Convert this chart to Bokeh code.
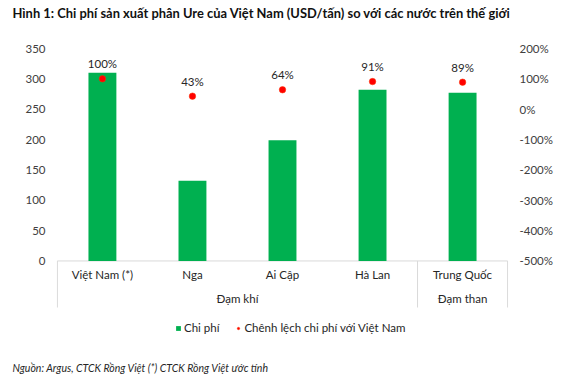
from bokeh.plotting import figure
from bokeh.models import (Range1d, LinearAxis, FixedTicker, Legend, LegendItem,
                          ColumnDataSource, Title)
from bokeh.core.properties import value
from bokeh.embed import file_html
from bokeh.resources import INLINE

# ---- data ----
categories = ["Việt Nam (*)", "Nga", "Ai Cập", "Hà Lan", "Trung Quốc"]
groups = ["Đạm khí", "Đạm khí", "Đạm khí", "Đạm khí", "Đạm than"]
cost = [310, 132, 199, 282, 277]          # USD/tấn
diff_pct = [100, 43, 64, 91, 89]          # % so với Việt Nam
left_ticks = [0, 50, 100, 150, 200, 250, 300, 350]
right_ticks = [-500, -400, -300, -200, -100, 0, 100, 200]

title_txt = "Hình 1: Chi phí sản xuất phân Ure của Việt Nam (USD/tấn) so với các nước trên thế giới"
source_txt = "Nguồn: Argus, CTCK Rồng Việt (*) CTCK Rồng Việt ước tính"
legend_cost = "Chi phí"
legend_diff = "Chênh lệch chi phí với Việt Nam"

FONT = "Lato"
TXT = "#404040"
DARK = "#262626"
GREEN = "#00B050"
RED = "#FF0000"
LINE = "#D9D9D9"

W, H = 578, 388
BL, BR, BT, BB = 56, 70, 48, 38
fh = H - BT - BB
Y1 = 350
Y0 = Y1 - fh / 0.607
X0, X1 = -0.01, 5.01
R0, R1 = -500 + 2 * Y0, 200


def yd(py):  # canvas px -> data y
    return Y1 - (py - BT) / fh * (Y1 - Y0)


p = figure(width=W, height=H, output_backend="svg", toolbar_location=None,
           x_range=Range1d(X0, X1), y_range=Range1d(Y0, Y1),
           x_axis_location=None, min_border_left=BL, min_border_right=BR,
           min_border_top=BT, min_border_bottom=BB)
p.outline_line_color = None
p.xgrid.visible = False
p.ygrid.visible = False
p.background_fill_color = "white"
p.border_fill_color = "white"

# spacer between frame and the heading, then the heading itself
p.add_layout(Title(text=" ", text_font_size="1px", standoff=19), "above")
p.add_layout(Title(text=title_txt, align="left", offset=-44, standoff=8,
                   vertical_align="top",
                   text_font=FONT, text_font_size="12.9px", text_font_style="bold",
                   text_color="#111111"), "above")

p.extra_y_ranges = {"pct": Range1d(R0, R1)}

p.yaxis[0].ticker = FixedTicker(ticks=left_ticks)
rax = LinearAxis(y_range_name="pct", ticker=FixedTicker(ticks=right_ticks),
                 major_label_overrides={v: f"{v}%" for v in right_ticks})
p.add_layout(rax, "right")
for a in (p.yaxis[0], rax):
    a.axis_line_color = None
    a.major_tick_line_color = None
    a.minor_tick_line_color = None
    a.major_tick_out = 0
    a.major_tick_in = 0
    a.minor_tick_out = 0
    a.major_label_standoff = 11
    a.major_label_text_font = FONT
    a.major_label_text_font_size = "11.5px"
    a.major_label_text_color = TXT

xs = [i + 0.5 for i in range(len(categories))]
src = ColumnDataSource(dict(x=xs, cost=cost, pct=diff_pct, cat=categories,
                            lab=[f"{v}%" for v in diff_pct]))

n = len(categories)
y_box = yd(307)
p.segment(x0=[0], y0=[0], x1=[n], y1=[0], line_color=LINE, line_width=1)
bounds = [0] + [i + 1 for i in range(n - 1) if groups[i] != groups[i + 1]] + [n]
p.segment(x0=bounds, y0=[0] * len(bounds), x1=bounds, y1=[y_box] * len(bounds),
          line_color=LINE, line_width=1)

bars = p.vbar(x="x", top="cost", bottom=0, width=0.31, source=src,
              fill_color=GREEN, line_color=None)
dots = p.scatter(x="x", y="pct", y_range_name="pct", source=src, size=6.5,
                 fill_color=RED, line_color="#FF3300", line_width=0.5)
p.text(x="x", y="pct", y_range_name="pct", text="lab", source=src, y_offset=-15,
       text_align="center", text_baseline="middle", text_font=value(FONT),
       text_font_size="11.5px", text_color=DARK)

p.text(x="x", y=yd(274), text="cat", source=src, text_align="center",
       text_baseline="middle", text_font=value(FONT), text_font_size="11.5px",
       text_color=DARK)
gnames, gx = [], []
for g in dict.fromkeys(groups):
    idx = [i for i, gg in enumerate(groups) if gg == g]
    gnames.append(g)
    gx.append((min(idx) + max(idx) + 1) / 2)
p.text(x=gx, y=[yd(298)] * len(gx), text=gnames, text_align="center",
       text_baseline="middle", text_font=value(FONT), text_font_size="11.5px",
       text_color=DARK)

legend = Legend(items=[LegendItem(label=legend_cost, renderers=[bars]),
                       LegendItem(label=legend_diff, renderers=[dots])],
                orientation="horizontal", location=(119, 16),
                glyph_width=6, glyph_height=6, label_standoff=3, spacing=16,
                padding=0, margin=0, border_line_color=None,
                background_fill_alpha=0, label_height=12,
                label_text_font=FONT, label_text_font_size="11.5px",
                label_text_color=DARK)
p.add_layout(legend, "center")

p.add_layout(Title(text=source_txt, align="left", offset=-44, standoff=22,
                   vertical_align="top",
                   text_font=FONT, text_font_size="10.5px", text_font_style="italic",
                   text_color=DARK), "below")

open("out.html", "w").write(file_html(p, INLINE))
